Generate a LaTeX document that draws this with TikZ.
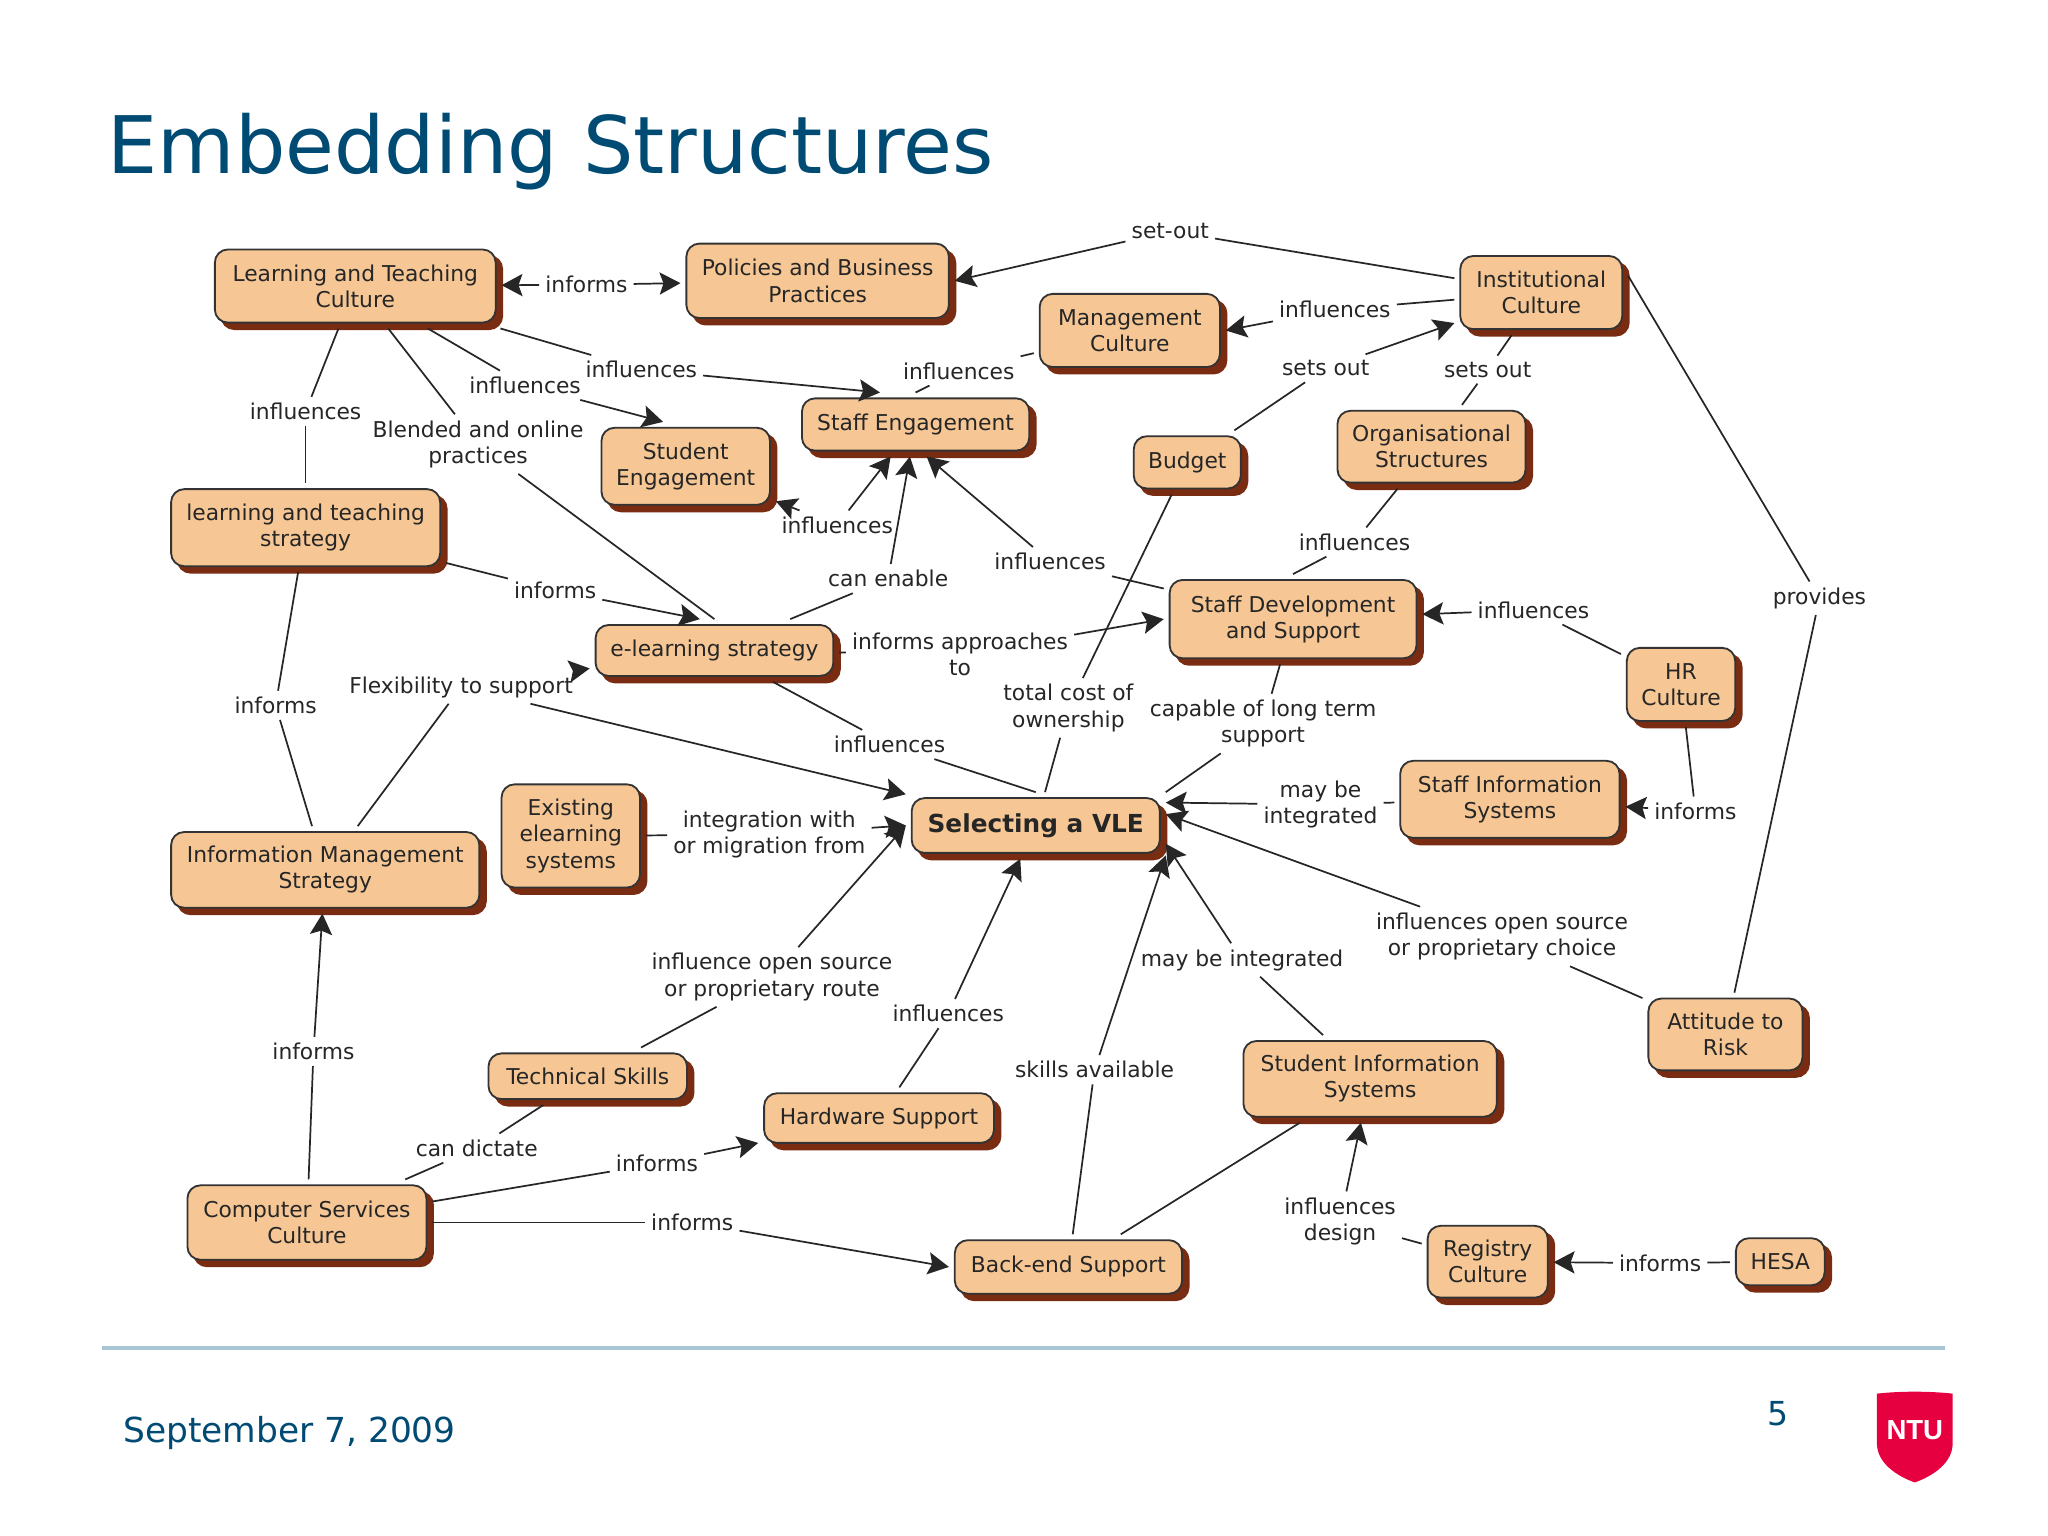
\documentclass[tikz,border=0pt]{standalone}
\usepackage{fontspec}
\setmainfont{DejaVu Sans}
\usetikzlibrary{arrows.meta,shadows}
\definecolor{titleblue}{HTML}{004B73}
\definecolor{peach}{HTML}{F6C795}
\definecolor{rust}{HTML}{7A2C12}
\definecolor{rulecol}{HTML}{A9C4D3}
\definecolor{ntured}{HTML}{E6003F}
\begin{document}
\begin{tikzpicture}[
    x=0.02cm, y=-0.02cm,
    box/.style 2 args={draw=black!80, fill=peach, rounded corners=0.2cm, align=center,
      line width=0.8pt, minimum width=#1*0.02cm, minimum height=#2*0.02cm, inner sep=0pt,
      outer sep=0.09cm, font=\fontsize{9.5}{11.4}\selectfont, text=black!85,
      copy shadow={shadow xshift=0.1cm, shadow yshift=-0.1cm, fill=rust, draw=rust}},
    lab/.style={align=center, inner sep=2.5pt, font=\fontsize{9.5}{11.4}\selectfont, text=black!85},
    seg/.style={line width=0.75pt, black!85},
    arr/.style={seg, ->, >={Stealth[length=3.2mm,width=3.4mm,inset=0.6mm]}},
  ]
  \useasboundingbox (0,0) rectangle (1568,1176);
  \fill[white] (0,0) rectangle (1568,1176);

  % title and footer
  \node[anchor=west, inner sep=0pt, text=titleblue, font=\fontsize{34.6}{40}\selectfont] (title) at (82,116) {Embedding Structures};
  \node[anchor=west, inner sep=0pt, text=titleblue, font=\fontsize{15}{18}\selectfont] (date) at (94,1097) {September 7, 2009};
  \node[inner sep=0pt, text=titleblue, font=\fontsize{14.4}{17}\selectfont] (page) at (1361,1082) {5};
  \draw[rulecol, line width=0.05cm] (78,1032) -- (1489,1032);
  \fill[ntured] (1437,1067) .. controls (1455,1065) and (1477,1065) .. (1495,1067)
    -- (1495,1105) .. controls (1495,1120) and (1480,1130) .. (1466,1135)
    .. controls (1452,1130) and (1437,1120) .. (1437,1105) -- cycle;
  \node[inner sep=0pt, text=white, font=\fontsize{12}{14}\fontspec{Liberation Sans}\bfseries] (ntu) at (1466,1095) {NTU};

  % concepts
  \node[box={215}{56}] (ltc) at (272,219) {Learning and Teaching\\Culture};
  \node[box={201}{57}] (pol) at (626,215) {Policies and Business\\Practices};
  \node[box={124}{56}] (inst) at (1180,224) {Institutional\\Culture};
  \node[box={138}{56}] (mgmt) at (865,253) {Management\\Culture};
  \node[box={174}{40}] (staffeng) at (701,325) {Staff Engagement};
  \node[box={129}{59}] (stueng) at (525,357) {Student\\Engagement};
  \node[box={82}{40}] (budget) at (909,354) {Budget};
  \node[box={144}{55}] (org) at (1096,342) {Organisational\\Structures};
  \node[box={206}{59}] (ltstrat) at (234,404) {learning and teaching\\strategy};
  \node[box={182}{39}] (elearn) at (547,498) {e-learning strategy};
  \node[box={189}{60}] (sds) at (990,474) {Staff Development\\and Support};
  \node[box={83}{56}] (hr) at (1287,524) {HR\\Culture};
  \node[box={236}{58}] (info) at (249,666) {Information Management\\Strategy};
  \node[box={106}{79}] (exist) at (437,640) {Existing\\elearning\\systems};
  \node[box={190}{42}, font=\fontsize{10.8}{12}\selectfont\bfseries] (vle) at (793,632) {Selecting a VLE};
  \node[box={168}{59}] (sis) at (1156,612) {Staff Information\\Systems};
  \node[box={118}{55}] (attitude) at (1321,792) {Attitude to\\Risk};
  \node[box={152}{35}] (tech) at (450,824) {Technical Skills};
  \node[box={176}{38}] (hw) at (673,856) {Hardware Support};
  \node[box={194}{58}] (stuinfo) at (1049,826) {Student Information\\Systems};
  \node[box={183}{57}] (csc) at (235,936) {Computer Services\\Culture};
  \node[box={174}{41}] (backend) at (818,970) {Back-end Support};
  \node[box={92}{55}] (reg) at (1139,966) {Registry\\Culture};
  \node[box={68}{36}] (hesa) at (1363,966) {HESA};

  % linking phrases
  \node[lab] (l1) at (449,218) {informs};
  \node[lab] (l2) at (896,177) {set-out};
  \node[lab] (l3) at (1022,237) {influences};
  \node[lab] (l4) at (1015,282) {sets out};
  \node[lab] (l5) at (1139,283) {sets out};
  \node[lab] (l6) at (734,284) {influences};
  \node[lab] (l7) at (491,283) {influences};
  \node[lab] (l8) at (402,295) {influences};
  \node[lab] (l9) at (234,315) {influences};
  \node[lab] (l10) at (366,340) {Blended and online\\practices};
  \node[lab] (l11) at (641,402) {influences};
  \node[lab] (l12) at (680,443) {can enable};
  \node[lab] (l13) at (804,430) {influences};
  \node[lab] (l14) at (425,452) {informs};
  \node[lab] (l15) at (1037,415) {influences};
  \node[lab] (l16) at (1174,467) {influences};
  \node[lab] (l17) at (1393,458) {provides};
  \node[lab] (l18) at (211,540) {informs};
  \node[lab] (l19) at (353,526) {Flexibility to support};
  \node[lab] (l20) at (735,501) {informs approaches\\to};
  \node[lab] (l21) at (681,570) {influences};
  \node[lab] (l22) at (818,542) {total cost of\\ownership};
  \node[lab] (l23) at (967,554) {capable of long term\\support};
  \node[lab] (l24) at (1011,616) {may be\\integrated};
  \node[lab] (l25) at (1298,621) {informs};
  \node[lab] (l26) at (589,639) {integration with\\or migration from};
  \node[lab] (l27) at (1150,717) {influences open source\\or proprietary choice};
  \node[lab] (l28) at (591,748) {influence open source\\or proprietary route};
  \node[lab] (l29) at (951,735) {may be integrated};
  \node[lab] (l30) at (726,776) {influences};
  \node[lab] (l31) at (240,805) {informs};
  \node[lab] (l32) at (838,819) {skills available};
  \node[lab] (l33) at (365,879) {can dictate};
  \node[lab] (l34) at (503,891) {informs};
  \node[lab] (l35) at (530,936) {informs};
  \node[lab] (l36) at (1026,935) {influences\\design};
  \node[lab] (l37) at (1271,967) {informs};

  % top of the map
  \draw[arr] (l1) -- (ltc);
  \draw[arr] (l1) -- (pol);
  \draw[seg] (inst) -- (l2);
  \draw[arr] (l2) -- (pol.east);
  \draw[seg] (inst) -- (l3);
  \draw[arr] (l3) -- (mgmt.east);
  \draw[seg] (budget) -- (l4);
  \draw[arr] (l4) -- (inst);
  \draw[seg] (inst) -- (l5);
  \draw[seg] (l5) -- (org);
  \draw[seg] (mgmt) -- (l6);
  \draw[seg] (l6) -- (staffeng.north);
  \draw[seg] (ltc) -- (l7);
  \draw[arr] (l7) -- (staffeng.138);
  \draw[seg] (ltc) -- (l8);
  \draw[arr] (l8) -- (stueng.117);
  \draw[seg] (ltc) -- (l9);
  \draw[seg] (l9) -- (ltstrat);
  \draw[seg] (ltc) -- (l10);
  \draw[seg] (l10) -- (elearn.north);
  \draw[arr] (l11) -- (stueng);
  \draw[arr] (l11) -- (staffeng);
  \draw[seg] (elearn) -- (l12);
  \draw[arr] (l12) -- (staffeng);
  \draw[seg] (sds) -- (l13);
  \draw[arr] (l13) -- (staffeng.-71);
  \draw[seg] (ltstrat) -- (l14);
  \draw[arr] (l14) -- (elearn.115);
  \draw[seg] (org) -- (l15);
  \draw[seg] (l15) -- (sds.north);
  \draw[seg] (hr) -- (l16);
  \draw[arr] (l16) -- (sds);
  \draw[seg] (inst.11) -- (l17);
  \draw[seg] (attitude) -- (l17);

  % middle
  \draw[seg] (ltstrat) -- (l18);
  \draw[seg] (l18) -- (info);
  \draw[seg] (info) -- (l19);
  \draw[arr] (l19) -- (elearn);
  \draw[arr] (l19) -- (vle);
  \draw[seg] (elearn) -- (l20);
  \draw[arr] (l20) -- (sds.west);
  \draw[seg] (elearn) -- (l21);
  \draw[seg] (l21) -- (vle.north);
  \draw[seg] (vle) -- (l22);
  \draw[seg] (l22) -- (budget);
  \draw[seg] (sds) -- (l23);
  \draw[seg] (l23) -- (vle.north east);
  \draw[seg] (sis) -- (l24);
  \draw[arr] (l24) -- (vle.10);
  \draw[seg] (hr) -- (l25);
  \draw[arr] (l25) -- (sis);
  \draw[seg] (exist) -- (l26);
  \draw[arr] (l26) -- (vle.west);

  % bottom
  \draw[seg] (attitude) -- (l27);
  \draw[arr] (l27) -- (vle.5);
  \draw[seg] (tech) -- (l28);
  \draw[arr] (l28) -- (vle.west);
  \draw[seg] (stuinfo) -- (l29);
  \draw[arr] (l29) -- (vle.-8);
  \draw[seg] (hw) -- (l30);
  \draw[arr] (l30) -- (vle);
  \draw[seg] (csc) -- (l31);
  \draw[arr] (l31) -- (info);
  \draw[seg] (backend) -- (l32);
  \draw[arr] (l32) -- (vle.-13);
  \draw[seg] (csc) -- (l33);
  \draw[seg] (l33) -- (tech);
  \draw[seg] (csc) -- (l34);
  \draw[arr] (l34) -- (hw);
  \draw[seg] (csc) -- (l35);
  \draw[arr] (l35) -- (backend.west);
  \draw[seg] (backend) -- (stuinfo);
  \draw[seg] (reg) -- (l36);
  \draw[arr] (l36) -- (stuinfo);
  \draw[seg] (hesa) -- (l37);
  \draw[arr] (l37) -- (reg);
\end{tikzpicture}
\end{document}
